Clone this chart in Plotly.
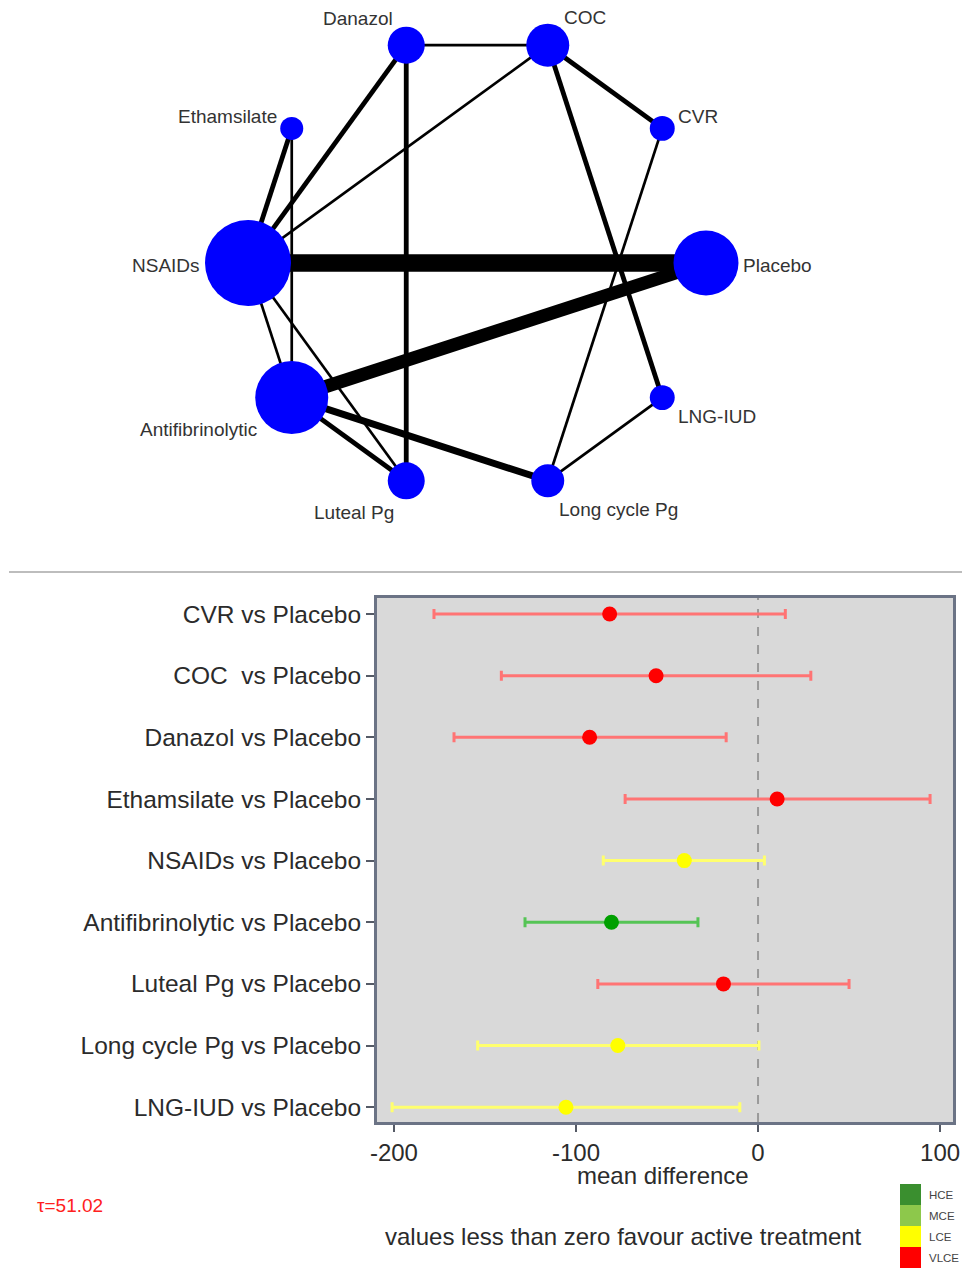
import math
import plotly.graph_objects as go

# ---------------- network of treatment comparisons ----------------
treatments = ["Placebo", "CVR", "COC", "Danazol", "Ethamsilate",
              "NSAIDs", "Antifibrinolytic", "Luteal Pg", "Long cycle Pg", "LNG-IUD"]
node_weight = [502, 74, 220, 163, 63, 879, 634, 163, 129, 74]

edge_from = ["NSAIDs", "Antifibrinolytic", "Antifibrinolytic", "NSAIDs", "Danazol",
             "COC", "COC", "Ethamsilate", "Antifibrinolytic", "Danazol", "COC",
             "CVR", "Ethamsilate", "NSAIDs", "NSAIDs", "Long cycle Pg"]
edge_to = ["Placebo", "Placebo", "Long cycle Pg", "Danazol", "Luteal Pg",
           "LNG-IUD", "CVR", "NSAIDs", "Luteal Pg", "COC", "NSAIDs",
           "Long cycle Pg", "Antifibrinolytic", "Antifibrinolytic", "Luteal Pg", "LNG-IUD"]
edge_weight = [8, 6, 3, 2, 2, 2, 2, 2, 2, 1, 1, 1, 1, 1, 1, 1]

# ---------------- forest plot of estimates vs placebo ----------------
comparisons = ["CVR vs Placebo", "COC\u00a0 vs Placebo", "Danazol vs Placebo",
               "Ethamsilate vs Placebo", "NSAIDs vs Placebo", "Antifibrinolytic vs Placebo",
               "Luteal Pg vs Placebo", "Long cycle Pg vs Placebo", "LNG-IUD vs Placebo"]
mean_diff = [-81.5, -56, -92.5, 10.5, -40.5, -80.5, -19, -77, -105.5]
ci_low = [-178, -141, -167, -73, -85, -128, -88, -154, -201]
ci_high = [15, 29, -17.5, 94.5, 3.5, -33, 50, 0.5, -10]
certainty = ["VLCE", "VLCE", "VLCE", "VLCE", "LCE", "MCE", "VLCE", "LCE", "LCE"]
x_ticks = [-200, -100, 0, 100]
tau_text = "\u03c4=51.02"
legend_levels = ["HCE", "MCE", "LCE", "VLCE"]

W, H = 962, 1268
FONT = "Liberation Sans, Arial, sans-serif"
TXT = "#2b2b2b"

fig = go.Figure()

# circular layout of the network (pixel-scaled axes)
cx, cy, R = 477, 263, 229
pos = {}
for i, t in enumerate(treatments):
    a = math.radians(36 * i)
    pos[t] = (cx + R * math.cos(a), cy - R * math.sin(a))

for a, b, w in zip(edge_from, edge_to, edge_weight):
    fig.add_trace(go.Scatter(
        x=[pos[a][0], pos[b][0]], y=[pos[a][1], pos[b][1]],
        mode="lines", line=dict(color="black", width=0.6 + 2.1 * w),
        xaxis="x2", yaxis="y2", hoverinfo="skip", showlegend=False))

fig.add_trace(go.Scatter(
    x=[pos[t][0] for t in treatments], y=[pos[t][1] for t in treatments],
    mode="markers", text=treatments, hoverinfo="text",
    marker=dict(color="#0000FF", opacity=1,
                size=[2.9 * math.sqrt(n) for n in node_weight],
                line=dict(width=0)),
    xaxis="x2", yaxis="y2", showlegend=False))

# label placement around each node: (anchor side, dx, dy)
label_place = {
    "Danazol": ("right", -11, -27), "COC": ("left", 14, -28),
    "Ethamsilate": ("right", -13, -12), "CVR": ("left", 14, -12),
    "NSAIDs": ("right", -46, 2), "Placebo": ("left", 35, 2),
    "Antifibrinolytic": ("right", -33, 32), "LNG-IUD": ("left", 14, 19),
    "Luteal Pg": ("right", -10, 32), "Long cycle Pg": ("left", 9, 29),
}
annotations = []
for t in treatments:
    side, dx, dy = label_place[t]
    annotations.append(dict(
        x=pos[t][0] + dx, y=pos[t][1] + dy, xref="x2", yref="y2",
        text=t, showarrow=False, xanchor=side, yanchor="middle",
        font=dict(family=FONT, size=19, color="#333333")))

# forest plot, one trace per certainty level
marker_col = {"HCE": "#2E8B2E", "MCE": "#00A000", "LCE": "#FFFF00", "VLCE": "#FF0000"}
bar_col = {"HCE": "#5FB05F", "MCE": "#55C455", "LCE": "#FFFF6E", "VLCE": "#FF7474"}
for lvl in legend_levels:
    idx = [i for i, c in enumerate(certainty) if c == lvl]
    if not idx:
        continue
    fig.add_trace(go.Scatter(
        x=[mean_diff[i] for i in idx], y=[comparisons[i] for i in idx],
        mode="markers", showlegend=False,
        marker=dict(color=marker_col[lvl], size=15, line=dict(width=0)),
        error_x=dict(type="data", symmetric=False,
                     array=[ci_high[i] - mean_diff[i] for i in idx],
                     arrayminus=[mean_diff[i] - ci_low[i] for i in idx],
                     color=bar_col[lvl], thickness=3, width=5)))

shapes = [
    # grey panel behind the forest plot only
    dict(type="rect", xref="x domain", yref="y domain", x0=0, x1=1, y0=0, y1=1,
         fillcolor="#D9D9D9", line=dict(width=0), layer="below"),
    dict(type="line", xref="x", yref="y domain", x0=0, x1=0, y0=0, y1=1,
         line=dict(color="#9a9a9a", width=2, dash="dash"), layer="below"),
    dict(type="line", xref="paper", yref="paper", x0=9 / W, x1=1,
         y0=1 - 572 / H, y1=1 - 572 / H, line=dict(color="#bdbdbd", width=2)),
]

# certainty legend (coloured squares with labels)
legend_fill = {"HCE": "#3A8F2F", "MCE": "#8DC84B", "LCE": "#FFFF00", "VLCE": "#FF0000"}
for k, lvl in enumerate(legend_levels):
    top = 1184 + 21 * k
    shapes.append(dict(type="rect", xref="paper", yref="paper",
                       x0=900 / W, x1=921 / W, y0=1 - (top + 21) / H, y1=1 - top / H,
                       fillcolor=legend_fill[lvl], line=dict(width=0)))
    annotations.append(dict(x=927 / W, y=1 - (top + 10.5) / H, xref="paper", yref="paper",
                            text=lvl, showarrow=False, xanchor="left", yanchor="middle",
                            font=dict(family=FONT, size=11.5, color="#444444")))

annotations.append(dict(x=663 / W, y=1 - 1175 / H, xref="paper", yref="paper",
                        text="mean difference", showarrow=False,
                        xanchor="center", yanchor="middle",
                        font=dict(family=FONT, size=24, color=TXT)))
annotations.append(dict(x=70 / W, y=1 - 1205 / H, xref="paper", yref="paper",
                        text=tau_text, showarrow=False, xanchor="center", yanchor="middle",
                        font=dict(family=FONT, size=19, color="#FF2020")))
annotations.append(dict(x=623 / W, y=1 - 1236 / H, xref="paper", yref="paper",
                        text="values less than zero favour active treatment",
                        showarrow=False, xanchor="center", yanchor="middle",
                        font=dict(family=FONT, size=24, color=TXT)))

fig.update_layout(
    width=W, height=H, margin=dict(l=0, r=0, t=0, b=0, autoexpand=False),
    paper_bgcolor="white", plot_bgcolor="white",
    font=dict(family=FONT, color=TXT),
    showlegend=False,
    xaxis=dict(domain=[377 / W, 953 / W], range=[-209.3, 107.1], automargin=False,
               tickvals=x_ticks, ticktext=[str(v) for v in x_ticks],
               ticks="outside", ticklen=7, tickwidth=2, tickcolor="#555a66",
               tickfont=dict(size=24, color=TXT),
               showgrid=False, zeroline=False,
               showline=True, linecolor="#6b7385", linewidth=3, mirror=True),
    yaxis=dict(domain=[1 - 1122 / H, 1 - 598 / H], type="category", automargin=False,
               categoryorder="array", categoryarray=comparisons,
               range=[8.24, -0.26],
               ticks="outside", ticklen=8, tickwidth=2, tickcolor="#555a66",
               tickfont=dict(size=24.5, color=TXT),
               showgrid=False, zeroline=False,
               showline=True, linecolor="#6b7385", linewidth=3, mirror=True),
    xaxis2=dict(domain=[0, 1], range=[0, W], visible=False, anchor="y2", automargin=False),
    yaxis2=dict(domain=[1 - 560 / H, 1], range=[560, 0], visible=False, anchor="x2",
                automargin=False),
    shapes=shapes, annotations=annotations,
)

fig.write_html("out.html")
